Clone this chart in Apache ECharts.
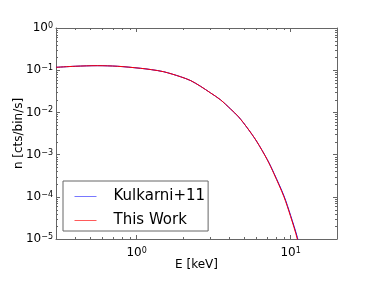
<!DOCTYPE html>
<html>
<head>
<meta charset="utf-8">
<script src="https://cdn.jsdelivr.net/npm/echarts@6/dist/echarts.min.js"></script>
<style>html,body{margin:0;padding:0;background:#fff}#c{width:374px;height:282px}</style>
</head>
<body>
<div id="c"></div>
<script>
// Data
var energyKeV = [0.3, 0.4, 0.556, 0.75, 1.06, 1.25, 1.5, 1.93, 2.25, 2.6, 3.02, 3.5, 4.08, 4.6, 5.23, 6.0, 7.06, 7.8, 9.05, 10.0, 11.05, 11.6];
var kulkarni11 = [0.117, 0.124, 0.128, 0.124, 0.111, 0.103, 0.092, 0.070, 0.0565, 0.0416, 0.029, 0.020, 0.012, 0.0078, 0.0043, 0.0021, 7.6e-4, 3.6e-4, 1.05e-4, 3.6e-5, 1.1e-5, 5e-6];
var thisWork   = [0.117, 0.124, 0.128, 0.124, 0.111, 0.103, 0.092, 0.070, 0.0565, 0.0416, 0.029, 0.020, 0.012, 0.0078, 0.0043, 0.0021, 7.5e-4, 3.5e-4, 1.0e-4, 3.4e-5, 1.0e-5, 4e-6];
var seriesNames = ['Kulkarni+11', 'This Work'];
var xMinorTicks = [0.4, 0.5, 0.6, 0.7, 0.8, 0.9, 2, 3, 4, 5, 6, 7, 8, 9];
var yMinorTicks = [];
[1e-5, 1e-4, 1e-3, 1e-2, 1e-1].forEach(function (d) {
  for (var k = 2; k <= 9; k++) yMinorTicks.push(+(k * d).toPrecision(3));
});
var xMin = 0.3, xMax = 20, yMin = 1e-5, yMax = 1;

var FONT = 'DejaVu Sans';
function powLabel(v) {
  var e = Math.log10(v);
  var r = Math.round(e);
  if (Math.abs(e - r) > 1e-6) return '';
  var s = r < 0 ? '\u2212' + (-r) : '' + r;
  return '{b|10}{s|' + s + '}';
}
var rich = {
  b: {fontFamily: FONT, fontSize: 12, color: '#000', lineHeight: 12, padding: [4, 0, 0, 0], verticalAlign: 'bottom'},
  s: {fontFamily: FONT, fontSize: 8, color: '#000', lineHeight: 9, verticalAlign: 'top'}
};
var axisCol = '#666';

var tickData = [];
xMinorTicks.forEach(function (v) { tickData.push([v, yMin, 0]); });
yMinorTicks.forEach(function (v) { tickData.push([xMin, v, 1]); });

function pairData(ys) { return energyKeV.map(function (x, i) { return [x, ys[i]]; }); }

var chart = echarts.init(document.getElementById('c'), null, {renderer: 'canvas'});
chart.setOption({
  animation: false,
  backgroundColor: '#fff',
  grid: {left: 56, right: 37, top: 28, bottom: 43, containLabel: false},
  legend: {
    orient: 'vertical', left: 63, top: 181,
    data: [
      {name: seriesNames[0], lineStyle: {color: '#7878ff', width: 1}},
      {name: seriesNames[1], lineStyle: {color: '#ff5a5a', width: 1}}
    ],
    itemWidth: 22, itemHeight: 14, itemGap: 9,
    padding: [8, 3, 3, 11],
    borderColor: axisCol, borderWidth: 1, borderRadius: 0,
    itemStyle: {opacity: 0},
    textStyle: {fontFamily: FONT, fontSize: 15, lineHeight: 15, color: '#000', padding: [0, 0, 0, 12]}
  },
  xAxis: [{
    type: 'log', logBase: 10, min: xMin, max: xMax, splitNumber: 2, position: 'bottom',
    name: 'E [keV]', nameLocation: 'middle', nameGap: 20, nameMoveOverlap: false,
    nameTextStyle: {fontFamily: FONT, fontSize: 12, color: '#000'},
    axisLine: {show: true, lineStyle: {color: axisCol, width: 1}},
    axisTick: {show: true, inside: true, length: 4, lineStyle: {color: axisCol}},
    axisLabel: {formatter: powLabel, rich: rich, margin: 8},
    splitLine: {show: false}
  }, {
    type: 'log', logBase: 10, min: xMin, max: xMax, splitNumber: 2, position: 'top',
    axisLine: {show: true, lineStyle: {color: axisCol, width: 1}},
    axisTick: {show: true, inside: true, length: 4, lineStyle: {color: axisCol}},
    axisLabel: {show: false}, splitLine: {show: false}
  }],
  yAxis: [{
    type: 'log', logBase: 10, min: yMin, max: yMax, splitNumber: 5, position: 'left',
    name: 'n [cts/bin/s]', nameLocation: 'middle', nameGap: 31, nameMoveOverlap: false,
    nameTextStyle: {fontFamily: FONT, fontSize: 12, color: '#000'},
    axisLine: {show: true, lineStyle: {color: axisCol, width: 1}},
    axisTick: {show: true, inside: true, length: 4, lineStyle: {color: axisCol}},
    axisLabel: {formatter: powLabel, rich: rich, margin: 3},
    splitLine: {show: false}
  }, {
    type: 'log', logBase: 10, min: yMin, max: yMax, splitNumber: 5, position: 'right',
    axisLine: {show: true, lineStyle: {color: axisCol, width: 1}},
    axisTick: {show: true, inside: true, length: 4, lineStyle: {color: axisCol}},
    axisLabel: {show: false}, splitLine: {show: false}
  }],
  series: [{
    type: 'custom', silent: true, xAxisIndex: 0, yAxisIndex: 0,
    data: tickData, encode: {x: 0, y: 1}, clip: false,
    renderItem: function (params, api) {
      var kind = api.value(2);
      var st = {stroke: axisCol, lineWidth: 1};
      var a, b;
      if (kind === 0) {
        a = api.coord([api.value(0), yMin]);
        b = api.coord([api.value(0), yMax]);
        var x = Math.round(a[0]) + 0.5;
        return {type: 'group', children: [
          {type: 'line', shape: {x1: x, y1: a[1], x2: x, y2: a[1] - 2}, style: st},
          {type: 'line', shape: {x1: x, y1: b[1], x2: x, y2: b[1] + 2}, style: st}
        ]};
      } else {
        a = api.coord([xMin, api.value(1)]);
        b = api.coord([xMax, api.value(1)]);
        var y = Math.round(a[1]) + 0.5;
        return {type: 'group', children: [
          {type: 'line', shape: {x1: a[0], y1: y, x2: a[0] + 2, y2: y}, style: st},
          {type: 'line', shape: {x1: b[0], y1: y, x2: b[0] - 2, y2: y}, style: st}
        ]};
      }
    }
  }, {
    name: seriesNames[0], type: 'line', xAxisIndex: 0, yAxisIndex: 0,
    data: pairData(kulkarni11), symbol: 'none', smooth: 0.3, clip: true,
    lineStyle: {color: '#0000ff', width: 1}, itemStyle: {color: '#0000ff'}
  }, {
    name: seriesNames[1], type: 'line', xAxisIndex: 0, yAxisIndex: 0,
    data: pairData(thisWork), symbol: 'none', smooth: 0.3, clip: true,
    lineStyle: {color: '#ff0000', width: 1}, itemStyle: {color: '#ff0000'}
  }]
});
</script>
</body>
</html>
